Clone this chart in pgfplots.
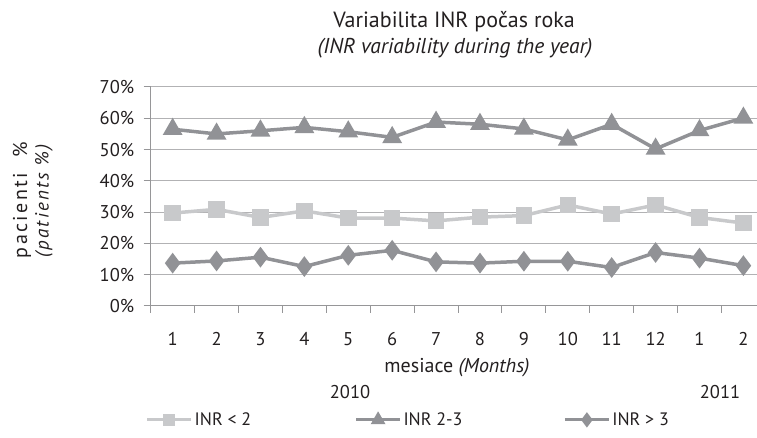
\documentclass[border=0pt]{standalone}
\usepackage{pgfplots}
\pgfplotsset{compat=1.18}
\usepackage{fontspec}
\setmainfont{PT Sans}
\newfontfamily\spaced[LetterSpace=12]{PT Sans}
\definecolor{dgray}{RGB}{145,146,150}
\definecolor{lgray}{RGB}{200,201,203}
\definecolor{gridc}{RGB}{178,178,180}
\definecolor{axc}{RGB}{150,150,152}
\definecolor{txt}{RGB}{35,31,32}
\begin{document}
\begin{tikzpicture}[x=1pt,y=1pt]
\useasboundingbox (0,0) rectangle (757,438);
\begin{axis}[
  at={(150.7pt,132pt)}, anchor=origin,
  scale only axis, width=606.3pt, height=219pt,
  xmin=0.5, xmax=14.31, ymin=0, ymax=70,
  axis x line=bottom, axis y line=left,
  axis line style={axc, line width=1pt, -},
  xtick={1,...,14},
  xticklabels={1,2,3,4,5,6,7,8,9,10,11,12,1,2},
  major x tick style={draw=none},
  minor xtick={0.5,1.5,...,13.5},
  minor x tick style={axc, line width=1pt},
  minor tick length=7pt,
  ytick={0,10,...,70},
  major y tick style={axc, line width=1pt},
  major tick length=7pt,
  tick align=outside,
  yticklabel={\pgfmathprintnumber{\tick}\%},
  ymajorgrids, grid style={gridc, line width=1pt},
  ticklabel style={font=\fontsize{18.5}{20}\selectfont, text=txt},
  xticklabel style={yshift=-16pt},
  yticklabel style={xshift=-6pt},
  /pgf/number format/assume math mode=true,
  legend columns=3,
  legend style={at={(0.0,-0.52)}, anchor=west, xshift=-8pt, draw=none, fill=none,
    font=\fontsize{18}{20}\selectfont, text=txt,
    /tikz/every even column/.append style={column sep=88pt}},
  legend image code/.code={\draw[line width=2.8pt, mark repeat=2,mark phase=2, mark options={scale=0.72}] plot coordinates {(0pt,0pt)(22pt,0pt)(44pt,0pt)};},
  clip=false,
]
\addplot[lgray, line width=3.5pt, mark=square*, mark size=6.5pt, mark options={solid}] coordinates {
(1,29.7)(2,30.9)(3,28.3)(4,30.4)(5,28.1)(6,28.1)(7,27.2)(8,28.4)(9,28.9)(10,32.3)(11,29.4)(12,32.3)(13,28.3)(14,26.5)};
\addlegendentry{\makebox[70pt][l]{INR < 2}}
\addplot[dgray, line width=3.5pt, mark=triangle*, mark size=8pt, mark options={solid}] coordinates {
(1,56.5)(2,55.0)(3,56.0)(4,57.1)(5,55.7)(6,53.9)(7,58.8)(8,58.1)(9,56.6)(10,53.1)(11,58.1)(12,50.2)(13,56.1)(14,60.1)};
\addlegendentry{\makebox[70pt][l]{INR 2-3}}
\addplot[dgray, line width=3.5pt, mark=diamond*, mark size=7.5pt, mark options={solid}] coordinates {
(1,13.7)(2,14.4)(3,15.6)(4,12.6)(5,16.2)(6,17.8)(7,14.1)(8,13.7)(9,14.3)(10,14.3)(11,12.3)(12,17.1)(13,15.3)(14,12.9)};
\addlegendentry{\makebox[70pt][l]{INR > 3}}
\end{axis}
\node[text=txt, font=\fontsize{22}{24}\selectfont] at (454,416) {Variabilita INR počas roka};
\node[text=txt, font=\fontsize{21.5}{24}\selectfont\itshape] at (455,390) {(INR variability during the year)};
\node[text=txt, font=\fontsize{20}{22}\selectfont] at (457,70) {mesiace \textit{(Months)}};
\node[text=txt, font=\fontsize{18.5}{20}\selectfont] at (350,46) {2010};
\node[text=txt, font=\fontsize{18.5}{20}\selectfont] at (720,46) {2011};
\node[text=txt, font=\spaced\fontsize{20}{22}\selectfont, rotate=90] at (22,238) {pacienti \ \%};
\node[text=txt, font=\spaced\fontsize{19}{21}\selectfont\itshape, rotate=90] at (44,237) {(patients \%)};
\end{tikzpicture}
\end{document}
